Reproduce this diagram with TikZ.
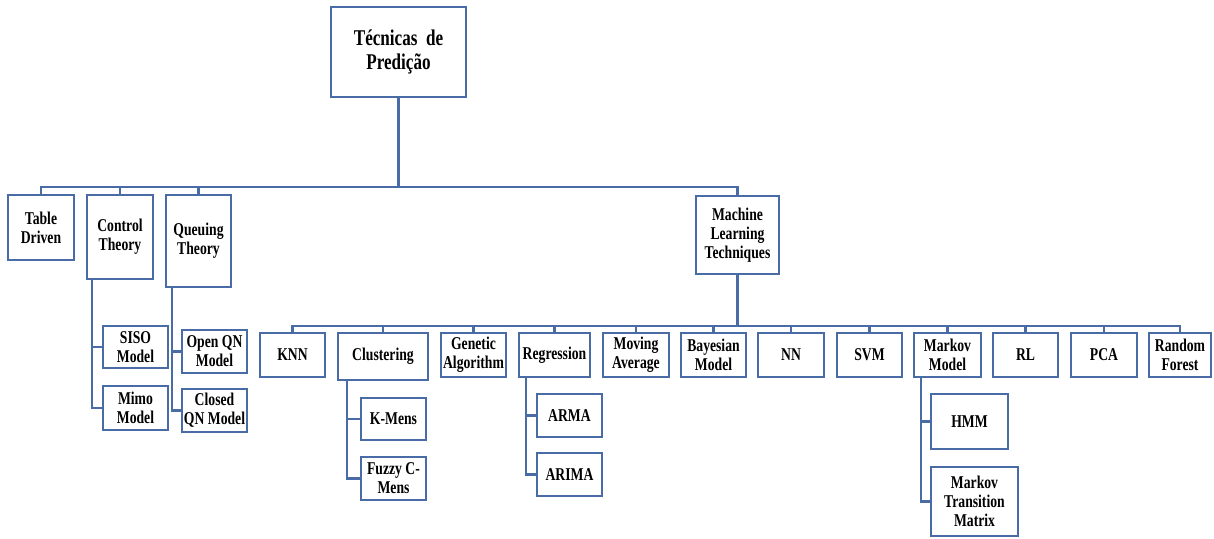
\documentclass[tikz,border=0pt]{standalone}
\usepackage{fontspec}
\newfontfamily\lbl[FakeStretch=0.76]{Liberation Serif}
\definecolor{edge}{RGB}{74,108,166}
\begin{document}
\begin{tikzpicture}[x=1pt,y=-1pt,
  box/.style={draw=edge,line width=2.2pt,fill=white,inner sep=0pt,align=center,
    font=\lbl\bfseries\fontsize{18}{19}\selectfont},
  link/.style={draw=edge,line width=2.2pt}]
\useasboundingbox (0,0) rectangle (1214,538);

% root
\node[box,minimum width=135,minimum height=90,font=\lbl\bfseries\fontsize{22.5}{24}\selectfont]
  (top) at (398.5,52) {Técnicas~ de\\Predição};

% first level
\node[box,minimum width=66,minimum height=65] (tbl) at (41,227.5) {Table\\Driven};
\node[box,minimum width=66,minimum height=84] (ctl) at (120,237) {Control\\Theory};
\node[box,minimum width=65,minimum height=92] (que) at (198.5,241) {Queuing\\Theory};
\node[box,minimum width=83,minimum height=78] (ml) at (737.5,235) {Machine\\Learning\\Techniques};

% control / queuing children
\node[box,minimum width=65,minimum height=42] (siso) at (135.5,347) {SISO\\Model};
\node[box,minimum width=65,minimum height=44] (mimo) at (135.5,408) {Mimo\\Model};
\node[box,minimum width=65,minimum height=43] (oqn) at (214.5,351.5) {Open QN\\Model};
\node[box,minimum width=65,minimum height=43] (cqn) at (214.5,410.5) {Closed\\QN Model};

% machine learning techniques
\node[box,minimum width=65,minimum height=44] (knn) at (292.5,355) {KNN};
\node[box,minimum width=90,minimum height=47] (clu) at (383,356.5) {Clustering};
\node[box,minimum width=65,minimum height=44] (gen) at (473.5,355) {Genetic\\Algorithm};
\node[box,minimum width=71,minimum height=44] (reg) at (554.5,355) {Regression};
\node[box,minimum width=66,minimum height=44] (mov) at (636,355) {Moving\\Average};
\node[box,minimum width=65,minimum height=44] (bay) at (713.5,355) {Bayesian\\Model};
\node[box,minimum width=66,minimum height=44] (nn) at (791,355) {NN};
\node[box,minimum width=65,minimum height=44] (svm) at (869.5,355) {SVM};
\node[box,minimum width=67,minimum height=44] (mkv) at (947.5,355) {Markov\\Model};
\node[box,minimum width=65,minimum height=44] (rl) at (1025.5,355) {RL};
\node[box,minimum width=66,minimum height=44] (pca) at (1104,355) {PCA};
\node[box,minimum width=62,minimum height=44] (rf) at (1180,355) {Random\\Forest};

% third level
\node[box,minimum width=65,minimum height=42] (km) at (393.5,419) {K-Mens};
\node[box,minimum width=65,minimum height=43] (fcm) at (393.5,478.5) {Fuzzy C-\\Mens};
\node[box,minimum width=65,minimum height=43] (arma) at (569.5,415.5) {ARMA};
\node[box,minimum width=65,minimum height=43] (arima) at (569.5,474.5) {ARIMA};
\node[box,minimum width=77,minimum height=55] (hmm) at (969.5,421.5) {HMM};
\node[box,minimum width=87,minimum height=69] (mtm) at (974.5,501.5) {Markov\\Transition\\Matrix};

% bus levels
\coordinate (busA) at (0,187);
\coordinate (busB) at (0,326);

% root to first level
\draw[link] (top.south) -- (top.south |- busA);
\draw[link] (tbl.north) -- (tbl.north |- busA) -| (ml.north);
\draw[link] (ctl.north) -- (ctl.north |- busA);
\draw[link] (que.north) -- (que.north |- busA);

% machine learning to its techniques
\draw[link] (ml.south) -- (ml.south |- busB);
\draw[link] (knn.north) -- (knn.north |- busB) -| (rf.north);
\foreach \n in {clu,gen,reg,mov,bay,nn,svm,mkv,rl,pca}
  \draw[link] (\n.north) -- (\n.north |- busB);

% side branches
\coordinate (cv) at ([xshift=6pt]ctl.south west);
\draw[link] (cv) |- (mimo.west);
\draw[link] (siso.west) -- (siso.west -| cv);

\coordinate (qv) at ([xshift=7pt]que.south west);
\draw[link] (qv) |- (cqn.west);
\draw[link] (oqn.west) -- (oqn.west -| qv);

\coordinate (kv) at ([xshift=10pt]clu.south west);
\draw[link] (kv) |- (fcm.west);
\draw[link] (km.west) -- (km.west -| kv);

\coordinate (rv) at ([xshift=8pt]reg.south west);
\draw[link] (rv) |- (arima.west);
\draw[link] (arma.west) -- (arma.west -| rv);

\coordinate (mv) at ([xshift=8pt]mkv.south west);
\draw[link] (mv) |- (mtm.west);
\draw[link] (hmm.west) -- (hmm.west -| mv);
\end{tikzpicture}
\end{document}
